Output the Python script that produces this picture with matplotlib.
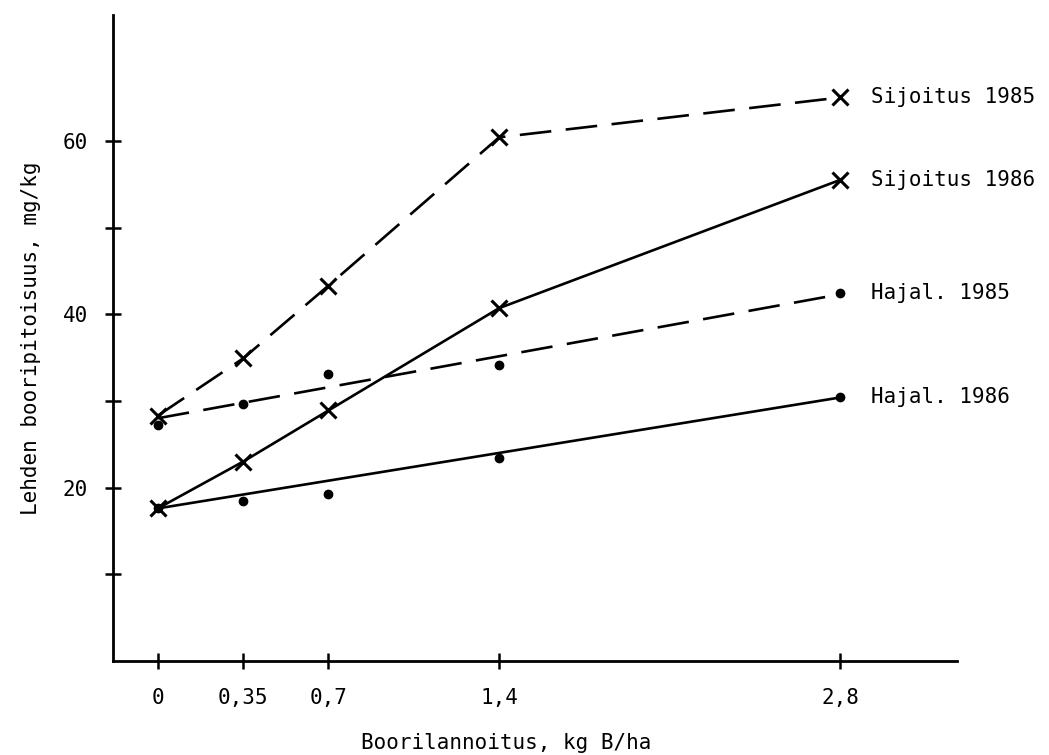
import matplotlib
matplotlib.use('Agg')
import matplotlib.pyplot as plt

# Boron fertilisation rates (kg B/ha) and leaf boron content (mg/kg)
boron_rate = [0, 0.35, 0.7, 1.4, 2.8]
rate_labels = ['0', '0,35', '0,7', '1,4', '2,8']

sijoitus_1985 = [28.3, 34.9, 43.3, 60.4, 65.0]
sijoitus_1986 = [17.6, 23.0, 28.9, 40.7, 55.5]
hajal_1985 = [27.2, 29.7, 33.1, 34.1, 42.4]
hajal_1986 = [17.6, 18.5, 19.3, 23.4, 30.5]

# straight lines drawn through the broadcast (hajal.) points
fit_x = [0, 2.8]
hajal_1985_fit = [28.0, 42.3]
hajal_1986_fit = [17.6, 30.4]

series_names = ['Sijoitus 1985', 'Sijoitus 1986', 'Hajal. 1985', 'Hajal. 1986']
y_ticks = [10, 20, 30, 40, 50, 60]
y_ticklabels = ['', '20', '', '40', '', '60']


def generate_plot():
    plt.rcParams['font.family'] = ['DejaVu Sans Mono']
    plt.rcParams['font.size'] = 15

    fig = plt.figure(figsize=(10.49, 7.55), dpi=100)
    ax = fig.add_axes([0.1077, 0.1245, 0.805, 0.8555])

    lw = 1.9
    dash = (12, 5.5)

    # placement (sijoitus) series: polylines through the x markers
    ax.plot(boron_rate, sijoitus_1985, color='black', lw=lw, dashes=dash,
            marker='x', ms=11, mew=2.2)
    ax.plot(boron_rate, sijoitus_1986, color='black', lw=lw,
            marker='x', ms=11, mew=2.2)

    # broadcast (hajal.) series: dots and a fitted line
    ax.plot(fit_x, hajal_1985_fit, color='black', lw=lw, dashes=dash)
    ax.plot(fit_x, hajal_1986_fit, color='black', lw=lw)
    ax.plot(boron_rate, hajal_1985, 'o', color='black', ms=6)
    ax.plot(boron_rate, hajal_1986, 'o', color='black', ms=6)

    ends = [sijoitus_1985[-1], sijoitus_1986[-1], hajal_1985[-1], hajal_1986[-1]]
    for name, yv in zip(series_names, ends):
        ax.annotate(name, xy=(boron_rate[-1], yv), xytext=(22, 0),
                    textcoords='offset points', ha='left', va='center')

    ax.set_xlim(-0.184, 3.28)
    ax.set_ylim(0, 74.5)
    ax.set_xticks(boron_rate)
    ax.set_xticklabels(rate_labels)
    ax.set_yticks(y_ticks)
    ax.set_yticklabels(y_ticklabels)

    for side in ['top', 'right']:
        ax.spines[side].set_visible(False)
    for side in ['left', 'bottom']:
        ax.spines[side].set_linewidth(2)

    ax.tick_params(axis='x', direction='inout', length=11, width=1.8, pad=14)
    ax.tick_params(axis='y', direction='inout', length=12, width=1.8, pad=12)

    ax.set_xlabel('Boorilannoitus, kg B/ha')
    ax.xaxis.set_label_coords(0.466, -0.112)
    ax.set_ylabel('Lehden booripitoisuus, mg/kg', labelpad=16)

    fig.savefig('out.png', dpi=100)
    plt.close(fig)


generate_plot()
